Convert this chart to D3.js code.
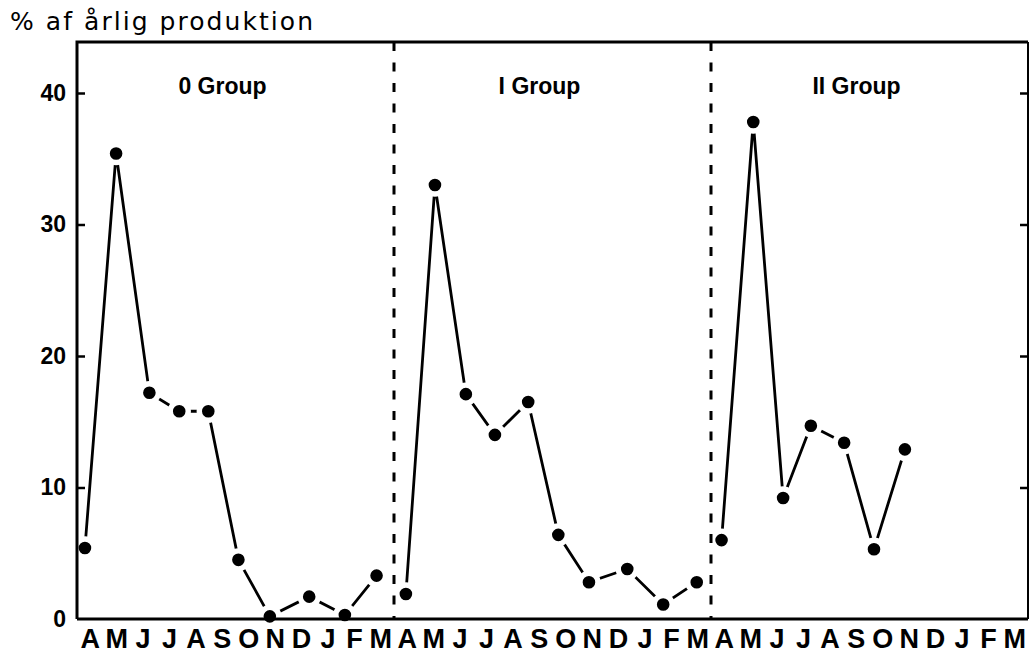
<!DOCTYPE html>
<html>
<head>
<meta charset="utf-8">
<script src="https://cdn.jsdelivr.net/npm/d3@7"></script>
<style>
  body { margin: 0; background: #fff; }
  svg { display: block; }
  text { fill: #000; }
</style>
</head>
<body>
<svg width="1029" height="653"></svg>
<script>
// month letters under the x axis, repeated for each year-class panel
var months = ["A","M","J","J","A","S","O","N","D","J","F","M"]
var groups = ["0 Group", "I Group", "II Group"]
var yTicks = [0, 10, 20, 30, 40]

// time in months counted from the start of the first April
var group0Time = [0.30, 1.48, 2.74, 3.87, 4.97, 6.11, 7.30, 8.79, 10.14, 11.34]
var group0Pct  = [5.4, 35.4, 17.2, 15.8, 15.8, 4.5, 0.2, 1.7, 0.3, 3.3]
var group1Time = [12.45, 13.55, 14.72, 15.82, 17.08, 18.22, 19.38, 20.83, 22.19, 23.46]
var group1Pct  = [1.9, 33.0, 17.1, 14.0, 16.5, 6.4, 2.8, 3.8, 1.1, 2.8]
var group2Time = [24.40, 25.60, 26.73, 27.78, 29.04, 30.17, 31.34]
var group2Pct  = [6.0, 37.8, 9.2, 14.7, 13.4, 5.3, 12.9]

var series = [
    group0Time.map((t, i) => ({t: t, v: group0Pct[i]})),
    group1Time.map((t, i) => ({t: t, v: group1Pct[i]})),
    group2Time.map((t, i) => ({t: t, v: group2Pct[i]}))
]

var svg = d3.select("svg")
var plotL = 77, plotR = 1028, plotT = 42, plotB = 619

var xScale = d3.scaleLinear().domain([0, 36]).range([plotL, plotR])
var yScale = d3.scaleLinear().domain([0, 40]).range([plotB, 93])

// title
svg.append("text")
    .attr("x", 10)
    .attr("y", 30)
    .attr("textLength", 303)
    .attr("lengthAdjust", "spacing")
    .style("font-family", "'DejaVu Sans', sans-serif")
    .style("font-size", "25px")
    .text("% af årlig  produktion")

// lines and dots
var line = d3.line().x(d => xScale(d.t)).y(d => yScale(d.v))
series.forEach(s => {
    svg.append("path")
        .datum(s)
        .attr("d", line)
        .attr("fill", "none")
        .attr("stroke", "#000")
        .attr("stroke-width", 2.8)
        .attr("stroke-linejoin", "miter")
})
series.forEach(s => {
    svg.append("g").selectAll("circle")
        .data(s)
        .enter()
        .append("circle")
        .attr("cx", d => xScale(d.t))
        .attr("cy", d => yScale(d.v))
        .attr("r", 9)
        .attr("fill", "#000")
        .attr("stroke", "#fff")
        .attr("stroke-width", 5.4)
})

// frame
svg.append("path")
    .attr("d", `M${plotL},${plotB}V${plotT}H${plotR}`)
    .attr("fill", "none").attr("stroke", "#000").attr("stroke-width", 3)
svg.append("path")
    .attr("d", `M${plotL},${plotB}H${plotR}`)
    .attr("fill", "none").attr("stroke", "#000").attr("stroke-width", 3.2)
svg.append("path")
    .attr("d", `M${plotR},${plotT}V${plotB}`)
    .attr("fill", "none").attr("stroke", "#000").attr("stroke-width", 2)

// dashed panel dividers
;[12, 24].forEach(m => {
    svg.append("line")
        .attr("x1", xScale(m)).attr("x2", xScale(m))
        .attr("y1", plotT).attr("y2", plotB)
        .attr("stroke", "#000")
        .attr("stroke-width", 3)
        .attr("stroke-dasharray", "9,11.5")
})

// y axes with inward ticks
var yAxis = d3.axisLeft(yScale).tickValues(yTicks).tickSize(-8).tickPadding(11)
var gy = svg.append("g").attr("transform", `translate(${plotL},0)`).call(yAxis)
gy.select(".domain").remove()
gy.selectAll(".tick line").attr("stroke-width", 2.5).filter(d => d === 0).remove()
gy.selectAll(".tick text")
    .style("font-family", "'Liberation Sans', Arial, sans-serif")
    .style("font-size", "23px")
    .style("font-weight", "bold")

var yAxisR = d3.axisRight(yScale).tickValues(yTicks.slice(1)).tickSize(-8).tickFormat("")
var gr = svg.append("g").attr("transform", `translate(${plotR},0)`).call(yAxisR)
gr.select(".domain").remove()
gr.selectAll(".tick line").attr("stroke-width", 2.5)

// month letters
var monthLabels = d3.range(36).map(i => ({i: i, m: months[i % 12]}))
svg.append("g").selectAll("text")
    .data(monthLabels)
    .enter()
    .append("text")
    .attr("x", d => xScale(d.i + 0.5))
    .attr("y", 648)
    .attr("text-anchor", "middle")
    .style("font-family", "'Liberation Sans', Arial, sans-serif")
    .style("font-size", "27px")
    .style("font-weight", "bold")
    .text(d => d.m)

// panel titles
svg.append("g").selectAll("text")
    .data(groups)
    .enter()
    .append("text")
    .attr("x", (d, i) => xScale(i * 12 + 6) - 13)
    .attr("y", 94)
    .attr("text-anchor", "middle")
    .style("font-family", "'Liberation Sans', Arial, sans-serif")
    .style("font-size", "23px")
    .style("font-weight", "bold")
    .text(d => d)
</script>
</body>
</html>
